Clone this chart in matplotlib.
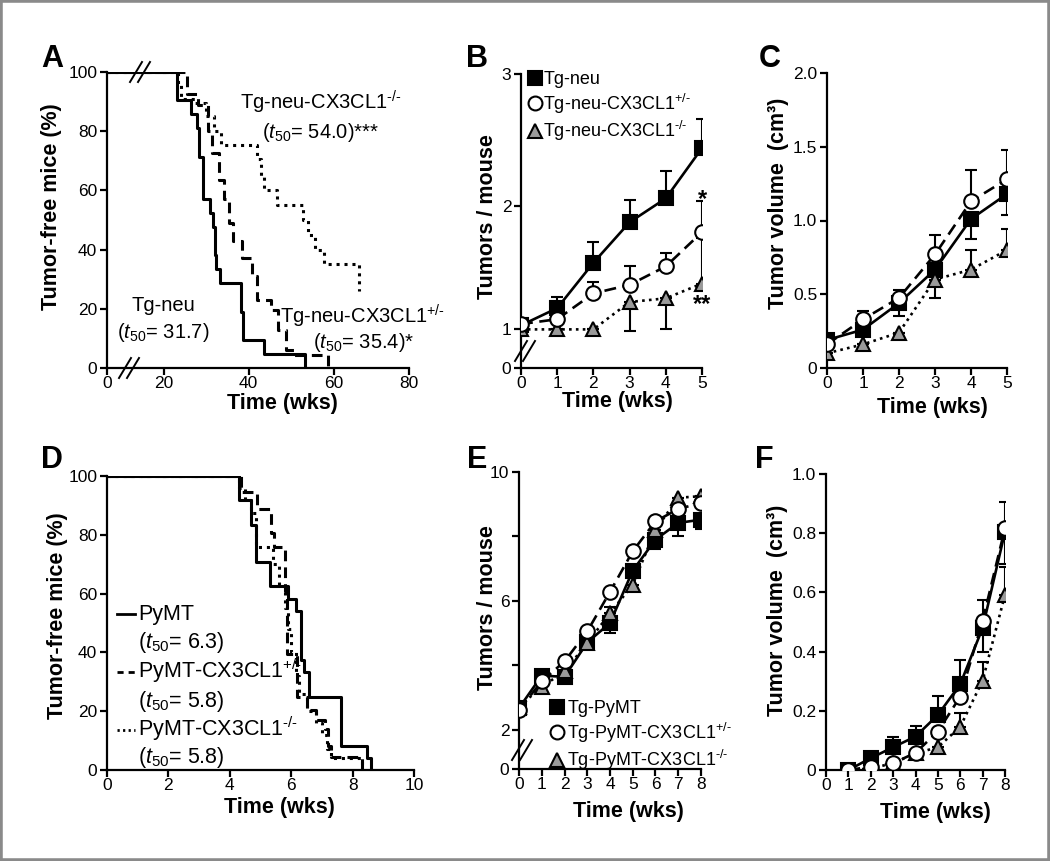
import numpy as np
import matplotlib
matplotlib.use("Agg")
import matplotlib.pyplot as plt
from matplotlib.lines import Line2D
from matplotlib.patches import Rectangle

# ---- panel A: Kaplan-Meier, Tg-neu (weeks, % tumor-free)
a_neu_t = [0, 23.2, 26.5, 27.9, 28.3, 29.2, 31.0, 31.6, 32.0, 32.4, 33.2, 38.1, 38.8, 43.7, 53.2]
a_neu_s = [100, 90.5, 85.7, 81.0, 71.4, 57.1, 52.4, 47.6, 38.1, 33.3, 28.6, 19.0, 9.5, 4.8, 0]
a_het_t = [0, 25.6, 28.0, 30.5, 31.5, 33.0, 34.3, 35.3, 36.3, 38.4, 40.8, 42.0, 45.2, 47.0, 48.7, 50.6, 58.7]
a_het_s = [100, 92.5, 89, 80, 72.5, 63.5, 57, 49, 43, 37, 31, 23, 19.5, 13, 6, 4.4, 0]
a_ko_t = [0, 23.3, 24.0, 27.5, 30.0, 31.8, 33.5, 42.0, 42.8, 43.6, 46.6, 52.8, 54.0, 55.6, 57.8, 66.8]
a_ko_s = [100, 95.5, 91, 89.5, 85, 80, 75.5, 70.5, 65, 60, 55, 50, 45, 40, 35, 26]

# ---- panel B: tumors / mouse, Tg-neu
b_wk = [0, 1, 2, 3, 4, 5]
b_neu = [1.03, 1.17, 1.54, 1.87, 2.06, 2.44]
b_neu_up = [0, 0.09, 0.17, 0.18, 0.21, 0.22]
b_het = [1.04, 1.08, 1.29, 1.36, 1.51, 1.79]
b_het_up = [0, 0, 0.09, 0.15, 0.11, 0.25]
b_ko = [0.99, 0.99, 0.99, 1.22, 1.25, 1.37]
b_ko_dn = [0, 0, 0, 0.26, 0.25, 0]
b_ko_up = [0, 0, 0, 0, 0, 0.37]

# ---- panel C: tumor volume, Tg-neu
c_wk = [0, 1, 2, 3, 4, 5]
c_neu = [0.19, 0.26, 0.44, 0.667, 1.01, 1.18]
c_neu_dn = [0, 0.04, 0.09, 0.19, 0.135, 0.14]
c_het = [0.16, 0.33, 0.475, 0.77, 1.13, 1.28]
c_het_up = [0, 0.055, 0.055, 0.13, 0.21, 0.2]
c_ko = [0.10, 0.16, 0.24, 0.60, 0.667, 0.80]
c_ko_up = [0, 0, 0, 0, 0.135, 0.14]

# ---- panel D: Kaplan-Meier, PyMT
d_wt_t = [0, 4.29, 4.68, 4.84, 5.3, 5.89, 6.16, 6.32, 6.43, 6.59, 7.62, 8.48, 8.6]
d_wt_s = [100, 91.7, 83.3, 70.8, 62.5, 58.3, 54.2, 37.5, 33.3, 25.0, 8.3, 4.2, 0]
d_het_t = [0, 4.35, 4.9, 5.35, 5.45, 5.8, 5.85, 6.2, 6.5, 6.8, 7.1, 7.2, 7.3, 8.32]
d_het_s = [100, 94.5, 88.9, 80.6, 75.9, 61, 39.6, 25, 20.4, 17, 14, 8, 4.5, 0]
d_ko_t = [0, 4.3, 4.5, 4.7, 4.85, 5.4, 5.6, 5.8, 5.9, 6.0, 6.15, 6.25, 6.5, 6.8, 7.0, 7.15, 7.3, 8.3]
d_ko_s = [100, 96, 91.7, 87.5, 75.9, 70, 62.5, 55, 48, 40, 32, 26, 20, 16, 12, 7, 4.2, 0]

# ---- panel E: tumors / mouse, PyMT
e_wk = [0, 1, 2, 3, 4, 5, 6, 7, 8]
e_wt = [2.67, 3.68, 3.64, 4.71, 5.31, 6.94, 7.9, 8.42, 8.52]
e_wt_dn = [0, 0, 0, 0, 0.3, 0, 0.3, 0.4, 0.3]
e_het = [2.62, 3.5, 4.12, 5.05, 6.28, 7.54, 8.47, 8.85, 9.04]
e_ko = [2.72, 3.33, 3.81, 4.69, 5.62, 6.5, 8.21, 9.2, 9.25]
e_ko_up = [0, 0, 0, 0, 0.2, 0, 0, 0, 0]
e_ko_dn = [0, 0, 0, 0, 0, 0.2, 0, 0, 0]

# ---- panel F: tumor volume, PyMT
f_wk = [1, 2, 3, 4, 5, 6, 7, 8]
f_wt = [0, 0.04, 0.077, 0.113, 0.186, 0.29, 0.48, 0.805]
f_wt_up = [0, 0, 0.033, 0.037, 0.065, 0.082, 0.095, 0]
f_wt_dn = [0, 0, 0, 0, 0, 0, 0.083, 0.108]
f_het = [0, 0.011, 0.023, 0.058, 0.13, 0.248, 0.504, 0.817]
f_het_up = [0, 0, 0, 0, 0, 0, 0, 0.088]
f_ko = [0, 0.005, 0.023, 0.056, 0.077, 0.146, 0.302, 0.592]
f_ko_up = [0, 0, 0, 0, 0, 0.045, 0.064, 0.093]

plt.rcParams.update({
    "font.family": ["Liberation Sans", "DejaVu Sans"],
    "mathtext.fontset": "custom",
    "mathtext.rm": "Liberation Sans",
    "mathtext.it": "Liberation Sans:italic",
    "mathtext.bf": "Liberation Sans:bold",
    "axes.linewidth": 1.6,
    "xtick.major.width": 1.6,
    "ytick.major.width": 1.6,
    "xtick.major.size": 5,
    "ytick.major.size": 5,
    "xtick.labelsize": 12.5,
    "ytick.labelsize": 12.5,
    "xtick.major.pad": 1,
    "ytick.major.pad": 2,
})

W, H = 1050, 861
GRAY = "#9a9a9a"
DASH = (0, (3.5, 2))
DOT = (0, (1, 1.6))
HET = "$^{\\text{+/-}}$"
KO = "$^{\\text{-/-}}$"


def make_axes(fig, box):
    left, top, right, bottom = box
    ax = fig.add_axes([left / W, 1 - bottom / H, (right - left) / W, (bottom - top) / H])
    ax.spines["top"].set_visible(False)
    ax.spines["right"].set_visible(False)
    ax.patch.set_alpha(0)
    return ax


def piecewise_scale(ax, axis, knots, pos):
    knots = np.asarray(knots, float)
    pos = np.asarray(pos, float)

    def mapper(a, b):
        def f(v):
            v = np.asarray(v, float)
            out = np.interp(v, a, b)
            lo = b[0] + (v - a[0]) * (b[1] - b[0]) / (a[1] - a[0])
            hi = b[-1] + (v - a[-1]) * (b[-1] - b[-2]) / (a[-1] - a[-2])
            return np.where(v < a[0], lo, np.where(v > a[-1], hi, out))
        return f

    fns = (mapper(knots, pos), mapper(pos, knots))
    if axis == "x":
        ax.set_xscale("function", functions=fns)
    else:
        ax.set_yscale("function", functions=fns)


def labels(ax, box, xlabel, ylabel, xl, yl):
    left, top, right, bottom = box
    ax.set_xlabel(xlabel, fontsize=15.5, fontweight="bold")
    ax.set_ylabel(ylabel, fontsize=15.5, fontweight="bold")
    ax.xaxis.set_label_coords((xl[0] - left) / (right - left), (bottom - xl[1]) / (bottom - top))
    ax.yaxis.set_label_coords((yl[0] - left) / (right - left), (bottom - yl[1]) / (bottom - top))


def ftext(fig, x, y, s, **kw):
    fig.text(x / W, 1 - y / H, s, **kw)


def brk(fig, cx, cy):
    for dx in (-4, 4):
        fig.add_artist(Line2D([(cx + dx - 6) / W, (cx + dx + 6) / W],
                              [1 - (cy + 10) / H, 1 - (cy - 10) / H],
                              color="k", lw=1.4))


def series(ax, x, y, dn, up, marker, face, ls, z):
    ax.errorbar(x, y, yerr=[dn, up], fmt="none", ecolor="k", elinewidth=1.5,
                capsize=4, capthick=1.5, zorder=2)
    ax.plot(x, y, color="k", lw=1.9, ls=ls, zorder=3)
    ax.plot(x, y, ls="none", marker=marker, ms=10.5, mfc=face, mec="k", mew=1.5, zorder=z)


def handles():
    return [Line2D([], [], ls="none", marker="s", ms=10, mfc="k", mec="k", mew=1.5),
            Line2D([], [], ls="none", marker="o", ms=10, mfc="w", mec="k", mew=1.5),
            Line2D([], [], ls="none", marker="^", ms=10, mfc=GRAY, mec="k", mew=1.5)]


fig = plt.figure(figsize=(W / 100, H / 100), dpi=100)
fig.add_artist(Rectangle((0, 0), 1, 1, transform=fig.transFigure, fill=False,
                         ec="#8a8a8a", lw=4))

zeros6 = [0] * 6
zeros8 = [0] * 8
zeros9 = [0] * 9

# ---------------- A
boxA = (107, 72, 409, 368)
ax = make_axes(fig, boxA)
piecewise_scale(ax, "x", [0, 20, 60, 80], [0, 56.6, 226.6, 302])
ax.step(a_neu_t, a_neu_s, where="post", color="k", lw=2.2)
ax.step(a_het_t, a_het_s, where="post", color="k", lw=2.2, ls=DASH)
ax.step(a_ko_t, a_ko_s, where="post", color="k", lw=2.2, ls=DOT)
ax.set_xlim(0, 80)
ax.set_ylim(0, 100)
ax.set_xticks([0, 20, 40, 60, 80])
ax.set_yticks([0, 20, 40, 60, 80, 100])
labels(ax, boxA, "Time (wks)", "Tumor-free mice (%)", (282, 393), (62, 207))
brk(fig, 140, 72)
brk(fig, 129, 368)
ftext(fig, 240, 110, "Tg-neu-CX3CL1" + KO, fontsize=14.5)
ftext(fig, 262, 138, "($\\mathit{t}_{50}$= 54.0)***", fontsize=14.5)
ftext(fig, 132, 311, "Tg-neu", fontsize=14.5)
ftext(fig, 117, 338, "($\\mathit{t}_{50}$= 31.7)", fontsize=14.5)
ftext(fig, 280, 323, "Tg-neu-CX3CL1" + HET, fontsize=14.5)
ftext(fig, 313, 348, "($\\mathit{t}_{50}$= 35.4)*", fontsize=14.5)

# ---------------- B
boxB = (521, 74, 702, 368)
ax = make_axes(fig, boxB)
piecewise_scale(ax, "y", [0, 1, 2, 3], [0, 39, 161.7, 294])
series(ax, b_wk, b_neu, zeros6, b_neu_up, "s", "k", "-", 4)
series(ax, b_wk, b_ko, b_ko_dn, b_ko_up, "^", GRAY, DOT, 5)
series(ax, b_wk, b_het, zeros6, b_het_up, "o", "w", (0, (4.5, 2.5)), 6)
ax.set_xlim(0, 5)
ax.set_ylim(0, 3)
ax.set_xticks(b_wk)
ax.set_yticks([0, 1, 2, 3])
labels(ax, boxB, "Time (wks)", "Tumors / mouse", (617, 391), (498, 217))
brk(fig, 525, 351)
ax.text(5, 2.0, "*", ha="center", va="baseline", fontsize=17, fontweight="bold", clip_on=False)
ax.text(5, 1.15, "**", ha="center", va="baseline", fontsize=17, fontweight="bold", clip_on=False)
ax.legend(handles(), ["Tg-neu", "Tg-neu-CX3CL1" + HET, "Tg-neu-CX3CL1" + KO],
          loc="upper left", bbox_to_anchor=(528 / W, 1 - 71 / H), bbox_transform=fig.transFigure,
          frameon=False, fontsize=13, handlelength=0.8, handletextpad=0.05,
          labelspacing=0.2, borderpad=0, borderaxespad=0)

# ---------------- C
boxC = (827, 73, 1007, 368)
ax = make_axes(fig, boxC)
series(ax, c_wk, c_neu, c_neu_dn, zeros6, "s", "k", "-", 4)
series(ax, c_wk, c_ko, zeros6, c_ko_up, "^", GRAY, DOT, 5)
series(ax, c_wk, c_het, zeros6, c_het_up, "o", "w", (0, (4.5, 2.5)), 6)
ax.set_xlim(0, 5)
ax.set_ylim(0, 2)
ax.set_xticks(c_wk)
ax.set_yticks([0, 0.5, 1.0, 1.5, 2.0])
ax.set_yticklabels(["0", "0.5", "1.0", "1.5", "2.0"])
labels(ax, boxC, "Time (wks)", "Tumor volume  (cm\u00b3)", (932, 397), (789, 203))

# ---------------- D
boxD = (107, 476, 414, 770)
ax = make_axes(fig, boxD)
ax.step(d_wt_t, d_wt_s, where="post", color="k", lw=2.2)
ax.step(d_het_t, d_het_s, where="post", color="k", lw=2.2, ls=DASH)
ax.step(d_ko_t, d_ko_s, where="post", color="k", lw=2.2, ls=DOT)
ax.set_xlim(0, 10)
ax.set_ylim(0, 100)
ax.set_xticks([0, 2, 4, 6, 8, 10])
ax.set_yticks([0, 20, 40, 60, 80, 100])
labels(ax, boxD, "Time (wks)", "Tumor-free mice (%)", (279, 797), (68, 616))
for yy, lab, ls in [(614, "PyMT", "-"), (672, "PyMT-CX3CL1" + HET, (0, (2.2, 1.8))),
                    (730, "PyMT-CX3CL1" + KO, (0, (0.8, 1.2)))]:
    fig.add_artist(Line2D([117 / W, 135 / W], [1 - yy / H, 1 - yy / H], color="k", lw=2, ls=ls))
    ftext(fig, 138, yy + 6, lab, fontsize=15.5)
for yy, lab in [(648, "6.3"), (707, "5.8"), (763, "5.8")]:
    ftext(fig, 138, yy, "($\\mathit{t}_{50}$= " + lab + ")", fontsize=15.5)

# ---------------- E
boxE = (519, 472, 701, 769)
ax = make_axes(fig, boxE)
piecewise_scale(ax, "y", [0, 2, 10], [0, 39.3, 297])
series(ax, e_wk, e_wt, e_wt_dn, zeros9, "s", "k", "-", 4)
series(ax, e_wk, e_ko, e_ko_dn, e_ko_up, "^", GRAY, DOT, 5)
series(ax, e_wk, e_het, zeros9, zeros9, "o", "w", (0, (4.5, 2.5)), 6)
ax.set_xlim(0, 8)
ax.set_ylim(0, 10)
ax.set_xticks(e_wk)
ax.set_yticks([0, 2, 4, 6, 8, 10])
ax.set_yticklabels(["0", "2", "", "6", "", "10"])
labels(ax, boxE, "Time (wks)", "Tumors / mouse", (628, 801), (498, 608))
brk(fig, 522, 750)
ax.legend(handles(), ["Tg-PyMT", "Tg-PyMT-CX3CL1" + HET, "Tg-PyMT-CX3CL1" + KO],
          loc="upper left", bbox_to_anchor=(550 / W, 1 - 700 / H), bbox_transform=fig.transFigure,
          frameon=False, fontsize=13, handlelength=0.8, handletextpad=0.15,
          labelspacing=0.2, borderpad=0, borderaxespad=0)

# ---------------- F
boxF = (826, 474, 1005, 770)
ax = make_axes(fig, boxF)
series(ax, f_wk, f_wt, f_wt_dn, f_wt_up, "s", "k", "-", 4)
series(ax, f_wk, f_ko, zeros8, f_ko_up, "^", GRAY, DOT, 5)
series(ax, f_wk, f_het, zeros8, f_het_up, "o", "w", (0, (4.5, 2.5)), 6)
ax.set_xlim(0, 8)
ax.set_ylim(0, 1.0)
ax.set_xticks(range(9))
ax.set_yticks([0, 0.2, 0.4, 0.6, 0.8, 1.0])
ax.set_yticklabels(["0", "0.2", "0.4", "0.6", "0.8", "1.0"])
labels(ax, boxF, "Time (wks)", "Tumor volume  (cm\u00b3)", (935, 802), (788, 610))

# panel letters
for x, y, s in [(52, 67, "A"), (477, 67, "B"), (770, 67, "C"),
                (52, 468, "D"), (477, 468, "E"), (764, 468, "F")]:
    ftext(fig, x, y, s, fontsize=22, fontweight="bold", ha="center", va="baseline")

fig.savefig("out.png", dpi=100)
